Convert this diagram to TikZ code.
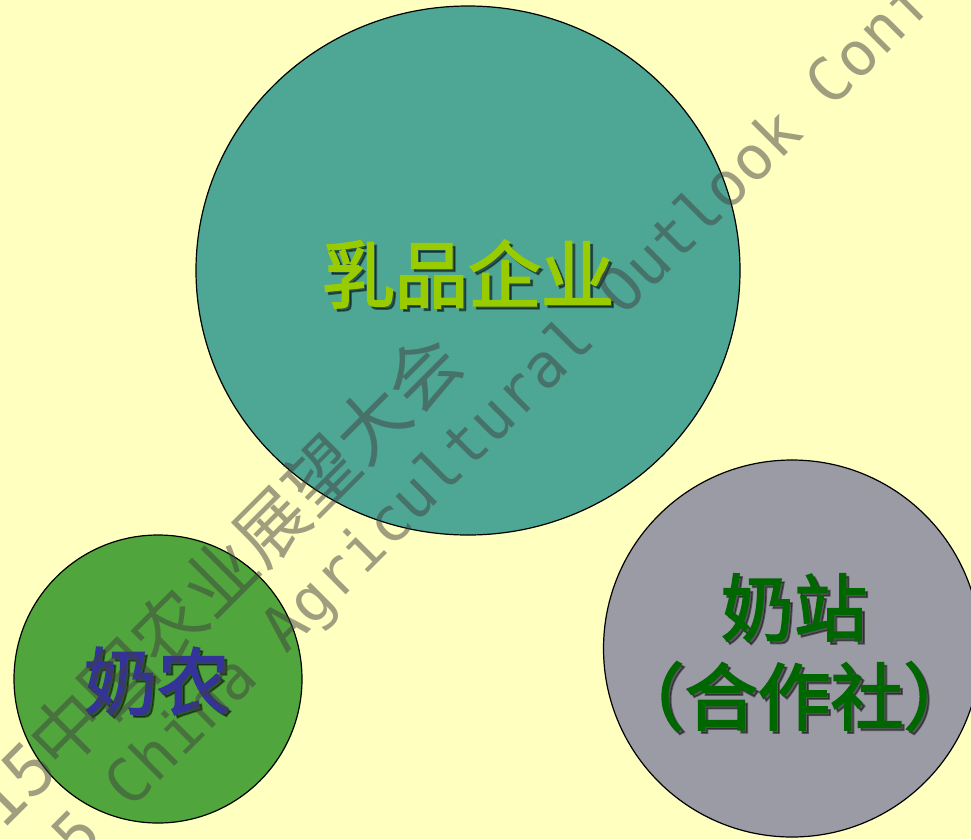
\documentclass[tikz,border=0pt]{standalone}
\usepackage{fontspec}
\usetikzlibrary{shapes.geometric}
\newfontfamily\cjk{Noto Sans CJK SC}
\newfontfamily\cjklab{Noto Sans CJK SC}[FakeBold=2.5]
\newfontfamily\wmmono{DejaVu Sans Mono}
\definecolor{bgyellow}{RGB}{255,255,192}
\definecolor{tealfill}{RGB}{78,166,148}
\definecolor{farmgreen}{RGB}{80,165,60}
\definecolor{stationgray}{RGB}{155,155,166}
\definecolor{labyellowgreen}{RGB}{153,204,0}
\definecolor{labblue}{RGB}{51,51,153}
\definecolor{labdkgreen}{RGB}{0,102,0}
\begin{document}
\begin{tikzpicture}[x=1pt,y=-1pt,
  blob/.style={ellipse, draw=black, line width=1.2pt, inner sep=0pt},
  lab/.style={font=\cjklab\fontsize{73}{89}\selectfont, inner sep=0pt, align=center},
  labshadow/.style={lab, text=black, text opacity=0.45},
  wm/.style={inner sep=0pt, text=black!75, text opacity=0.5, rotate=45}]
\fill[bgyellow] (0,0) rectangle (971,839);
\useasboundingbox (0,0) rectangle (971,839);
% circles
\node[blob, fill=tealfill, minimum width=544pt, minimum height=529pt] (corp) at (468,270.5) {};
\node[blob, fill=farmgreen, minimum width=288pt, minimum height=288pt] (farm) at (158,679) {};
\node[blob, fill=stationgray, minimum width=377pt, minimum height=377pt] (station) at (792,648.5) {};
% labels with shadows
\node[labshadow] (corpsh) at ([shift={(3pt,-3pt)}]468,274) {乳品企业};
\node[lab, text=labyellowgreen] (corplab) at (468,274) {乳品企业};
\node[labshadow] (farmsh) at ([shift={(3pt,-3pt)}]157,681) {奶农};
\node[lab, text=labblue] (farmlab) at (157,681) {奶农};
\node[labshadow] (stationsh) at ([shift={(3pt,-3pt)}]794,652.5) {奶站\\（合作社）};
\node[lab, text=labdkgreen] (stationlab) at (794,652.5) {奶站\\（合作社）};
% watermark
\node[wm, anchor=east, font=\cjk\fontsize{72}{72}\selectfont] (wmcn) at (448.5,347.5) {2015中国农业展望大会};
\node[wm, anchor=center, font=\wmmono\fontsize{61}{61}\selectfont] (wmen) at (534,383) {2015 China Agricultural Outlook Conference};
\end{tikzpicture}
\end{document}
